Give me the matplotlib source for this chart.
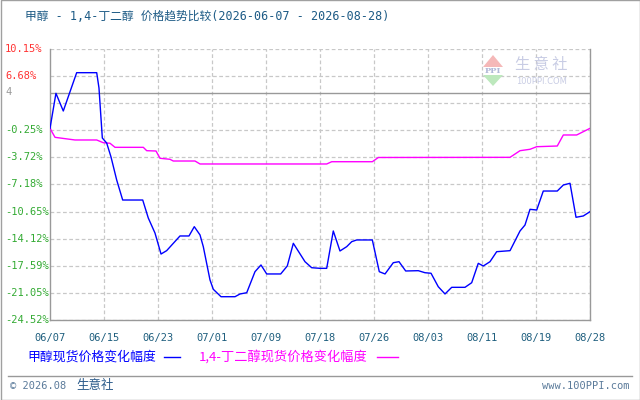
import matplotlib
matplotlib.use("Agg")
import matplotlib.pyplot as plt
from matplotlib.lines import Line2D
from matplotlib.patches import Polygon, Rectangle
from matplotlib.transforms import blended_transform_factory

# ---------------- data ----------------
title = "甲醇 - 1,4-丁二醇 价格趋势比较(2026-06-07 - 2026-08-28)"
x_labels = ["06/07", "06/15", "06/23", "07/01", "07/09", "07/18",
            "07/26", "08/03", "08/11", "08/19", "08/28"]
y_ticks = [10.15, 6.68, 3.21, -0.25, -3.72, -7.18, -10.65, -14.12, -17.59, -21.05, -24.52]
y_labels = ["10.15%", "6.68%", "", "-0.25%", "-3.72%", "-7.18%", "-10.65%",
            "-14.12%", "-17.59%", "-21.05%", "-24.52%"]
ref_value = 4.5
ref_label = "4"

# positions in tick-interval units (0..10)
methanol_x = [0, 0.11, 0.246, 0.494, 0.865, 0.907, 0.969, 1.05, 1.13, 1.235, 1.346, 1.717,
              1.82, 1.944, 2.056, 2.16, 2.407, 2.574, 2.672, 2.778, 2.839, 2.963, 3.024,
              3.167, 3.426, 3.519, 3.643, 3.796, 3.907, 4.013, 4.272, 4.394, 4.506, 4.722,
              4.846, 5.0, 5.124, 5.246, 5.37, 5.494, 5.587, 5.68, 5.969, 6.098, 6.204,
              6.357, 6.463, 6.587, 6.82, 6.944, 7.056, 7.19, 7.315, 7.439, 7.685, 7.809,
              7.931, 8.024, 8.148, 8.272, 8.519, 8.704, 8.796, 8.889, 9.013, 9.135, 9.394,
              9.506, 9.63, 9.741, 9.876, 10.0]
methanol_y = [0.0, 4.48, 2.22, 7.12, 7.12, 5.16, -1.24, -1.88, -3.67, -6.61, -9.17, -9.17,
              -11.47, -13.39, -16.08, -15.65, -13.77, -13.77, -12.58, -13.64, -15.14, -19.40,
              -20.59, -21.54, -21.54, -21.19, -21.03, -18.34, -17.48, -18.63, -18.63, -17.61,
              -14.71, -17.06, -17.83, -17.91, -17.91, -13.13, -15.69, -15.14, -14.50, -14.28,
              -14.28, -18.34, -18.63, -17.19, -17.06, -18.25, -18.21, -18.47, -18.54, -20.26,
              -21.19, -20.34, -20.34, -19.75, -17.27, -17.61, -17.06, -15.78, -15.65, -13.13,
              -12.37, -10.36, -10.45, -8.02, -8.02, -7.25, -7.03, -11.38, -11.21, -10.66]

bdo_x = [0, 0.093, 0.463, 0.865, 0.987, 1.111, 1.204, 1.728, 1.791, 1.963, 2.037, 2.222,
         2.283, 2.685, 2.778, 5.124, 5.217, 5.969, 6.08, 8.519, 8.704, 8.889, 9.013,
         9.394, 9.506, 9.753, 10.0]
bdo_y = [0.0, -1.15, -1.49, -1.49, -1.84, -1.91, -2.43, -2.43, -2.86, -2.90, -3.83, -3.96,
         -4.18, -4.18, -4.56, -4.56, -4.27, -4.27, -3.73, -3.71, -2.86, -2.68, -2.35,
         -2.26, -0.85, -0.85, 0.0]

legend1 = "甲醇现货价格变化幅度"
legend2 = "1,4-丁二醇现货价格变化幅度"
footer_left = "© 2026.08"
footer_brand = "生意社"
footer_right = "www.100PPI.com"

# ---------------- style ----------------
W, H = 640, 400
fig = plt.figure(figsize=(6.4, 4.0), dpi=100)
fig.patch.set_facecolor("white")

def fx(px): return px / W
def fy(py): return 1 - py / H

ax = fig.add_axes([fx(50), fy(320), (590 - 50) / W, (320 - 49) / H])
ax.set_xlim(0, 10)
ax.set_ylim(y_ticks[-1], y_ticks[0])

grid_c = "#C8C8C8"
for v in y_ticks:
    ax.axhline(v, color=grid_c, lw=0.9, ls=(0, (3, 2)), zorder=1)
for i in range(1, len(x_labels)):
    ax.axvline(i, color=grid_c, lw=0.9, ls=(0, (3, 2)), zorder=1)
ax.axhline(ref_value, color="#999999", lw=1.0, zorder=2)

ax.plot(methanol_x, methanol_y, color="#0000FF", lw=1.0, zorder=4)
ax.plot(bdo_x, bdo_y, color="#FF00FF", lw=1.0, zorder=3)

for s in ["left", "bottom", "right"]:
    ax.spines[s].set_color("#999999")
    ax.spines[s].set_linewidth(1.0)
ax.spines["top"].set_visible(False)
ax.set_xticks([])
ax.set_yticks([])

mono = ["DejaVu Sans Mono", "Noto Sans CJK SC"]
cjk = ["Noto Sans CJK SC", "DejaVu Sans"]
# y labels
tr = blended_transform_factory(fig.transFigure, ax.transData)
for v, lab in zip(y_ticks, y_labels):
    if not lab:
        continue
    col = "#FF3333" if v > 4 else "#33AA33"
    ax.text(fx(5), v, lab, transform=tr, ha="left", va="center", fontsize=7.5,
            color=col, family=mono)
ax.text(fx(5), ref_value + 0.2, ref_label, transform=tr, ha="left", va="center",
        fontsize=7.5, color="#999999", family=mono)

# x labels
trx = blended_transform_factory(ax.transData, fig.transFigure)
for i, lab in enumerate(x_labels):
    ax.text(i, fy(338), lab, transform=trx, ha="center", va="center", fontsize=7.5,
            color="#1F5F7F", family=mono)

# title
fig.text(fx(25), fy(16), title, ha="left", va="center", fontsize=8.5,
         color="#1C5A85", family=mono)

# legend
fig.text(fx(27), fy(357), legend1, ha="left", va="center", fontsize=9.3,
         color="#0000FF", family=cjk)
fig.add_artist(Line2D([fx(164), fx(180)], [fy(357), fy(357)], color="#0000FF", lw=1.0))
fig.text(fx(199), fy(357), legend2, ha="left", va="center", fontsize=9.5,
         color="#FF00FF", family=cjk)
fig.add_artist(Line2D([fx(377), fx(398)], [fy(357), fy(357)], color="#FF00FF", lw=1.0))

# footer
fig.add_artist(Line2D([fx(8), fx(632)], [fy(376), fy(376)], color="#999999", lw=1.0))
fig.text(fx(10), fy(386), footer_left, ha="left", va="center", fontsize=7.5,
         color="#5A7A9A", family=mono)
fig.text(fx(76), fy(386), footer_brand, ha="left", va="center", fontsize=9,
         color="#2A5A8A", family=cjk)
fig.text(fx(630), fy(386), footer_right, ha="right", va="center", fontsize=7.5,
         color="#5A7A9A", family=mono)

# watermark logo
fig.add_artist(Polygon([[fx(483), fy(67)], [fx(503), fy(67)], [fx(493), fy(55)]],
                       closed=True, facecolor="#F5B8B8", edgecolor="none",
                       transform=fig.transFigure))
fig.add_artist(Polygon([[fx(483), fy(75)], [fx(503), fy(75)], [fx(493), fy(86)]],
                       closed=True, facecolor="#BDE8BD", edgecolor="none",
                       transform=fig.transFigure))
fig.text(fx(493), fy(71), "PPI", ha="center", va="center", fontsize=6,
         color="#B0B8D8", family="DejaVu Serif", weight="bold")
fig.text(fx(541), fy(65), "生 意 社", ha="center", va="center", fontsize=11,
         color="#C8CCE4", family=cjk)
fig.text(fx(542), fy(82), "100PPI.COM", ha="center", va="center", fontsize=6,
         color="#C8CCE4", family="DejaVu Sans")

# outer border
fig.add_artist(Rectangle((0.0008, 0.001), 0.9985, 0.998, transform=fig.transFigure,
                         fill=False, edgecolor="#A0A0A0", lw=1.0))

fig.savefig("out.png", dpi=100, facecolor="white")
